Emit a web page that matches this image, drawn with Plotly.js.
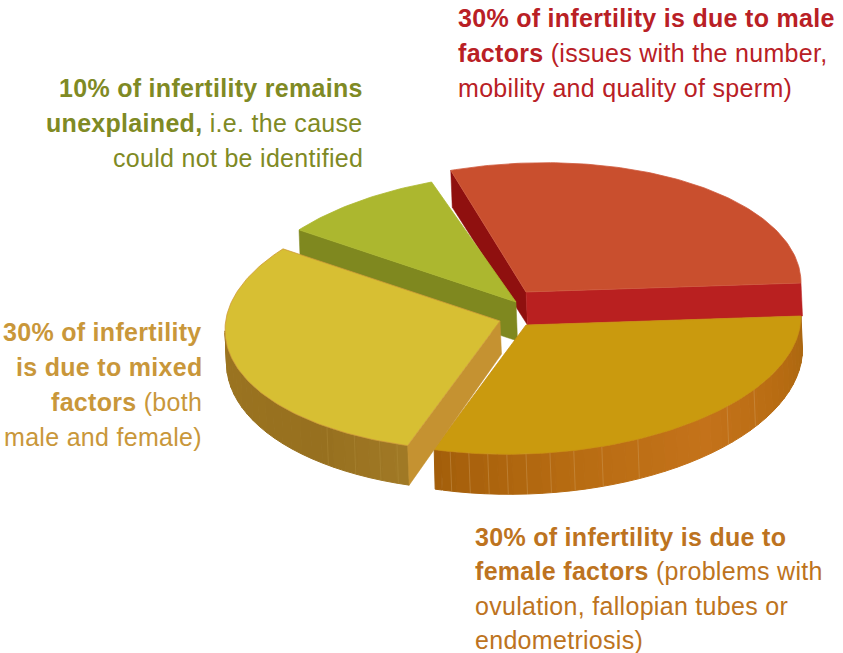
<!DOCTYPE html>
<html>
<head>
<meta charset="utf-8">
<script src="https://cdn.plot.ly/plotly-3.0.1.min.js"></script>
<style>
html,body{margin:0;padding:0;background:#fff;overflow:hidden}
#chart{width:843px;height:653px}
.annotation-text{letter-spacing:0.3px}
</style>
</head>
<body>
<div id="chart"></div>
<script>
// --- data, clockwise from the right-hand edge of the pie
const categories = ['female', 'mixed', 'unexplained', 'male'];
const sharesInOrder = [30, 30, 10, 30];
const captionFemale = ['<b>30% of infertility is due to</b>', '<b>female factors</b> (problems with', 'ovulation, fallopian tubes or', 'endometriosis)'];
const captionMixed = ['<b>30% of infertility</b>', '<b>is due to mixed</b>', '<b>factors</b> (both', 'male and female)'];
const captionUnexplained = ['<b>10% of infertility remains</b>', '<b>unexplained,</b> i.e. the cause', 'could not be identified'];
const captionMale = ['<b>30% of infertility is due to male</b>', '<b>factors</b> (issues with the number,', 'mobility and quality of sperm)'];

// --- projection and style
const RX = 275, RY = 129, SKEW = 9, WARP = 2;
const style = {
  female: {c:[526,325], drop:33, grow:7, trim:[0,0], top:'#ca9a0e', edge:'#c98f10', walls:[],
           rim:[[0,'#a9660f'],[25,'#b86c12'],[50,'#c4721a'],[80,'#b86c12'],[110,'#a35e0a']],
           seamAt:[34,43,66,74,80,85,90,94,98,102,106], seam:'#d2a060'},
  mixed: {c:[500,321], drop:33, grow:7, trim:[0,0], top:'#d7bf33', edge:'#cf9a38', walls:[['start','#c59231']],
          rim:[[108,'#a27a26'],[130,'#97701f'],[180,'#9b7420']],
          seamAt:[112,116,122,129], seam:'#b18d3c'},
  unexplained: {c:[516,302], drop:39, grow:0, trim:[0,-1.5], top:'#acb72f', edge:'#acb72f', walls:[['start','#7f881f']], rim:[]},
  male: {c:[526,292], drop:33, grow:4, trim:[0.5,0], top:'#c94f2e', edge:'#cf5a3e', walls:[['start','#8f100f'],['end','#b92020']], rim:[]}
};
const drawOrder = ['male', 'unexplained', 'female', 'mixed'];
const captions = [
  {lines:captionMale, x:457, y:18, step:35, anchor:'left', color:'#b92025'},
  {lines:captionUnexplained, x:363.5, y:88, step:35, anchor:'right', color:'#7f8a24'},
  {lines:captionMixed, x:202.5, y:332, step:35, anchor:'right', color:'#c9973a'},
  {lines:captionFemale, x:474, y:537, step:34.4, anchor:'left', color:'#bd7320'}
];

// --- geometry derived from the shares
const total = sharesInOrder.reduce((a,b)=>a+b,0);
let acc = 0;
const spans = {};
const warp = d => d + WARP*Math.sin(d*Math.PI/360);
categories.forEach((k,i)=>{
  const s = acc/total*360; acc += sharesInOrder[i];
  const tr = style[k].trim;
  spans[k] = [warp(s)+tr[0], warp(acc/total*360)+tr[1]];
});

function topPt(st,deg){ const t=deg*Math.PI/180;
  return [st.c[0]+RX*Math.cos(t), st.c[1]+RY*Math.sin(t)-SKEW*Math.cos(t)]; }
function botPt(st,deg){ const p=topPt(st,deg);
  return [p[0]+1.5, p[1]+st.drop+st.grow*Math.abs(Math.sin(deg*Math.PI/180))]; }
function hex(h){ return [1,3,5].map(i=>parseInt(h.substr(i,2),16)); }
function shade(stops,deg){
  for(let i=0;i<stops.length-1;i++){
    if(deg<=stops[i+1][0]){
      const f=(deg-stops[i][0])/(stops[i+1][0]-stops[i][0]);
      const a=hex(stops[i][1]), b=hex(stops[i+1][1]);
      return 'rgb('+a.map((v,j)=>Math.round(v+(b[j]-v)*f)).join(',')+')';
    }
  }
  return stops[stops.length-1][1];
}
function poly(pts,fill,line,w){
  const xs=pts.map(p=>p[0]), ys=pts.map(p=>p[1]);
  xs.push(xs[0]); ys.push(ys[0]);
  return {type:'scatter',mode:'lines',x:xs,y:ys,fill:'toself',fillcolor:fill,
          line:{color:line||fill,width:w===undefined?0.5:w},hoverinfo:'skip',showlegend:false};
}

const traces=[];
drawOrder.forEach(k=>{
  const st=style[k], sp=spans[k];
  // outer rim, only the part facing the viewer, shaded in narrow bands
  if(st.rim.length){
    const from=sp[0], to=Math.min(sp[1],180), STEP=3;
    for(let d=from;d<to;d+=STEP){
      const e=Math.min(d+STEP,to), pts=[];
      for(let q=d;q<=e+1e-6;q+=0.5) pts.push(topPt(st,q));
      for(let q=e;q>=d-1e-6;q-=0.5) pts.push(botPt(st,q));
      traces.push(poly(pts,shade(st.rim,d+STEP/2),null,1));
    }
    st.seamAt.forEach(d=>{
      const a=topPt(st,d), b=botPt(st,d);
      traces.push({type:'scatter',mode:'lines',x:[a[0],b[0]],y:[a[1],b[1]],
        line:{color:st.seam,width:0.6},opacity:0.7,hoverinfo:'skip',showlegend:false});
    });
  }
  // flat cut walls
  st.walls.forEach(w=>{
    const deg=w[0]==='start'?sp[0]:sp[1];
    traces.push(poly([st.c,topPt(st,deg),botPt(st,deg),[st.c[0]+1.5,st.c[1]+st.drop]],w[1]));
  });
  // top face
  const pts=[st.c];
  for(let q=sp[0];q<=sp[1]+1e-6;q+=1) pts.push(topPt(st,q));
  pts.push(topPt(st,sp[1]));
  traces.push(poly(pts,st.top,st.edge,0.8));
});

const annotations=[];
captions.forEach(cap=>{
  cap.lines.forEach((txt,i)=>{
    annotations.push({xref:'x',yref:'y',x:cap.x,y:cap.y+i*cap.step,text:txt,showarrow:false,
      xanchor:cap.anchor,yanchor:'middle',align:cap.anchor,borderpad:0,
      font:{family:'"Liberation Sans", Arial, sans-serif',size:25,color:cap.color}});
  });
});

Plotly.newPlot('chart',traces,{
  width:843,height:653,margin:{l:0,r:0,t:0,b:0},
  paper_bgcolor:'#ffffff',plot_bgcolor:'#ffffff',showlegend:false,
  xaxis:{range:[0,843],visible:false,fixedrange:true},
  yaxis:{range:[653,0],visible:false,fixedrange:true},
  annotations:annotations
},{displayModeBar:false,staticPlot:true});
</script>
</body>
</html>
